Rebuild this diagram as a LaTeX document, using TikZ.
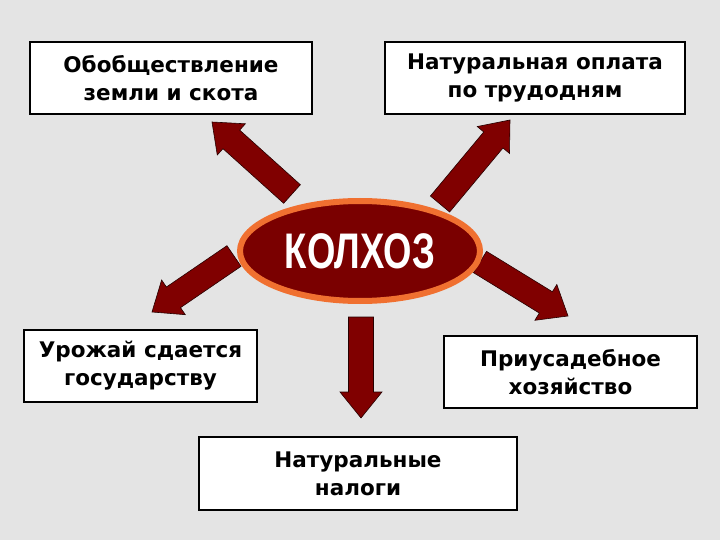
\documentclass[tikz,border=0pt]{standalone}
\usepackage{fontspec}
\usepackage{graphicx}
\setmainfont{DejaVu Sans}
\newfontfamily\titlefont{Liberation Sans}
\usetikzlibrary{calc,shapes.geometric}
\definecolor{bgcol}{RGB}{228,228,228}
\definecolor{darkred}{RGB}{122,0,0}
\definecolor{arrowred}{RGB}{128,0,0}
\definecolor{orng}{RGB}{240,112,48}
\tikzset{
  box/.style={draw=black, line width=1.2pt, fill=white, align=center,
    font=\bfseries\fontsize{21.5}{28}\selectfont, inner sep=0pt},
  arrowstyle/.style={fill=arrowred, draw=black!70!arrowred, line width=0.6pt, line join=miter},
  hub/.style={ellipse, draw=orng, line width=6pt, fill=darkred, text=white,
    font=\titlefont\bfseries\fontsize{50}{50}\selectfont, inner sep=0pt}
}
\newcommand{\blockarrow}[3]{%
  \coordinate (#3h) at ($(#2)!26pt!(#1)$);
  \draw[arrowstyle] ($(#1)!12.5pt!90:(#2)$) -- ($(#3h)!12.5pt!90:(#2)$) -- ($(#3h)!21pt!90:(#2)$) -- (#2)
    -- ($(#3h)!21pt!-90:(#2)$) -- ($(#3h)!12.5pt!-90:(#2)$) -- ($(#1)!12.5pt!-90:(#2)$) -- cycle;
}
\begin{document}
\begin{tikzpicture}[x=1pt,y=-1pt]
\fill[bgcol] (0,0) rectangle (720,540);
\useasboundingbox (0,0) rectangle (720,540);

\node[box, minimum width=282pt, minimum height=72pt] (b1) at (171,78) {Обобществление\\земли и скота};
\node[box, minimum width=300pt, minimum height=72pt] (b2) at (535,78) {Натуральная оплата\\по трудодням};
\node[box, minimum width=233pt, minimum height=72pt] (b3) at (140.5,366) {Урожай сдается\\государству};
\node[box, minimum width=253pt, minimum height=72pt] (b4) at (570.5,372) {Приусадебное\\хозяйство};
\node[box, minimum width=318pt, minimum height=73pt] (b5) at (358,473.5) {Натуральные\\налоги};

\coordinate (t1) at (292,194); \coordinate (p1) at (212,122);
\coordinate (t2) at (440,204); \coordinate (p2) at (510,120);
\coordinate (t3) at (234,256); \coordinate (p3) at (152,312);
\coordinate (t4) at (480,262); \coordinate (p4) at (568,316);
\coordinate (t5) at (361,317); \coordinate (p5) at (361,418);

\blockarrow{t1}{p1}{a1}
\blockarrow{t2}{p2}{a2}
\blockarrow{t3}{p3}{a3}
\blockarrow{t4}{p4}{a4}
\blockarrow{t5}{p5}{a5}

\node[hub, minimum width=240pt, minimum height=100pt] (k) at (360,251) {\scalebox{0.73}[1]{КОЛХОЗ}};
\end{tikzpicture}
\end{document}
